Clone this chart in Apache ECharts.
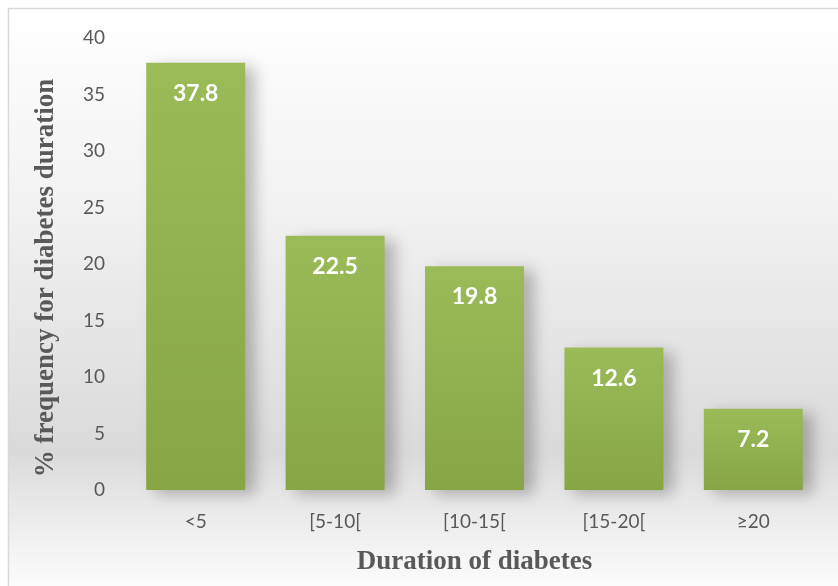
<!DOCTYPE html>
<html>
<head>
<meta charset="utf-8">
<script src="https://cdn.jsdelivr.net/npm/echarts@6/dist/echarts.min.js"></script>
<style>
  html, body { margin: 0; padding: 0; background: #fff; }
  #chart { width: 838px; height: 586px; }
</style>
</head>
<body>
<div id="chart"></div>
<script>
const categories = ['<5', '[5-10[', '[10-15[', '[15-20[', '≥20']
const frequency = [37.8, 22.5, 19.8, 12.6, 7.2]

const chart = echarts.init(document.getElementById('chart'))

chart.setOption({
  animation: false,
  // panel background: white at top, gray band near the bottom of the plot
  graphic: [{
    type: 'rect',
    z: -10,
    shape: { x: 8.5, y: 8.5, width: 840, height: 590 },
    style: {
      fill: new echarts.graphic.LinearGradient(0, 0, 0, 1, [
        { offset: 0, color: '#ffffff' },
        { offset: 0.35, color: '#f1f1f1' },
        { offset: 0.75, color: '#dadada' },
        { offset: 0.88, color: '#eeeeee' },
        { offset: 1, color: '#ffffff' }
      ]),
      stroke: '#d9d9d9',
      lineWidth: 1.5
    }
  }],
  grid: { left: 126, right: 15, top: 38, bottom: 96 },
  xAxis: {
    type: 'category',
    data: categories,
    axisLine: { show: false },
    axisTick: { show: false },
    axisLabel: { color: '#595959', fontFamily: 'Lato', fontSize: 19, margin: 22 },
    name: 'Duration of diabetes',
    nameLocation: 'middle',
    nameGap: 59,
    nameTextStyle: { color: '#595959', fontFamily: 'Liberation Serif', fontWeight: 'bold', fontSize: 27 }
  },
  yAxis: {
    type: 'value',
    min: 0,
    max: 40,
    interval: 5,
    axisLine: { show: false },
    axisTick: { show: false },
    splitLine: { show: false },
    axisLabel: { color: '#595959', fontFamily: 'Lato', fontSize: 19, margin: 21 },
    name: '% frequency for diabetes duration',
    nameLocation: 'middle',
    nameGap: 66,
    nameTextStyle: {
      color: '#595959', fontFamily: 'Liberation Serif', fontWeight: 'bold', fontSize: 27,
      padding: [0, 28, 0, 0]
    }
  },
  series: [{
    type: 'bar',
    data: frequency,
    barWidth: '71%',
    itemStyle: {
      color: new echarts.graphic.LinearGradient(0, 0, 0, 1, [
        { offset: 0, color: '#9bbb59' },
        { offset: 1, color: '#87a545' }
      ]),
      shadowColor: 'rgba(0,0,0,0.25)',
      shadowBlur: 14,
      shadowOffsetX: 10,
      shadowOffsetY: 4
    },
    label: {
      show: true,
      position: 'insideTop',
      distance: 19,
      color: '#ffffff',
      fontFamily: 'Lato',
      fontWeight: 'bold',
      fontSize: 23
    }
  }]
})
</script>
</body>
</html>
